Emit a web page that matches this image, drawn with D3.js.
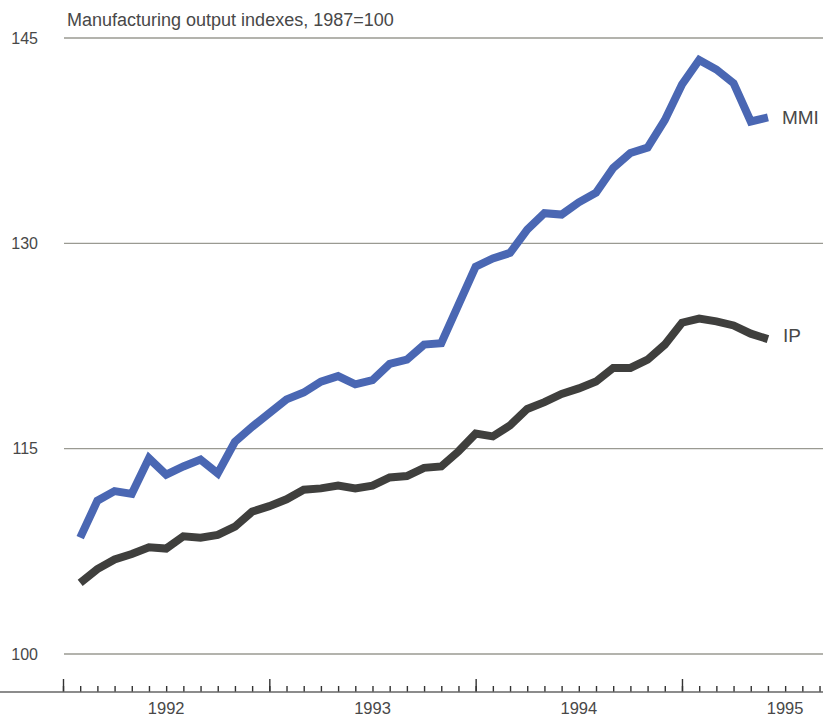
<!DOCTYPE html>
<html>
<head>
<meta charset="utf-8">
<script src="https://cdn.jsdelivr.net/npm/d3@7"></script>
<style>
  body { margin: 0; background: #fff; }
  text { font-family: "Liberation Sans", Arial, Helvetica, sans-serif; fill: #484848; }
</style>
</head>
<body>
<div id="chart"></div>
<script>
// Monthly values, Jan 1992 - May 1995 (plotted at month end)
var months = ["1992-01","1992-02","1992-03","1992-04","1992-05","1992-06","1992-07","1992-08","1992-09","1992-10","1992-11","1992-12",
              "1993-01","1993-02","1993-03","1993-04","1993-05","1993-06","1993-07","1993-08","1993-09","1993-10","1993-11","1993-12",
              "1994-01","1994-02","1994-03","1994-04","1994-05","1994-06","1994-07","1994-08","1994-09","1994-10","1994-11","1994-12",
              "1995-01","1995-02","1995-03","1995-04","1995-05"];

var mmi = [108.5,111.2,111.9,111.7,114.3,113.1,113.7,114.2,113.2,115.5,116.6,117.6,
           118.6,119.1,119.9,120.3,119.7,120.0,121.2,121.5,122.6,122.7,125.5,128.3,
           128.9,129.3,131.0,132.2,132.1,133.0,133.7,135.5,136.6,137.0,139.0,141.6,
           143.4,142.7,141.7,138.9,139.2];

var ip = [105.2,106.2,106.9,107.3,107.8,107.7,108.6,108.5,108.7,109.3,110.4,110.8,
          111.3,112.0,112.1,112.3,112.1,112.3,112.9,113.0,113.6,113.7,114.8,116.1,
          115.9,116.7,117.9,118.4,119.0,119.4,119.9,120.9,120.9,121.5,122.6,124.2,
          124.5,124.3,124.0,123.4,123.0];

var yTicks = [100, 115, 130, 145];
var years = ["1992", "1993", "1994", "1995"];

var width = 823, height = 718;

// month index since Jan 1992
function monthIndex(s) {
  var p = s.split("-");
  return (+p[0] - 1992) * 12 + (+p[1] - 1);
}

var x = d3.scaleLinear().domain([0, 48]).range([63, 888.3]);
var y = d3.scaleLinear().domain([100, 145]).range([654, 38]);

var svg = d3.select("#chart").append("svg")
    .attr("width", width)
    .attr("height", height);

//Title
svg.append("text")
    .attr("x", 67)
    .attr("y", 26)
    .style("font-size", "18px")
    .text("Manufacturing output indexes, 1987=100");

//Gridlines and y labels
svg.selectAll(".grid")
    .data(yTicks)
  .enter().append("line")
    .attr("class", "grid")
    .attr("x1", 64)
    .attr("x2", width)
    .attr("y1", function(d) { return y(d); })
    .attr("y2", function(d) { return y(d); })
    .attr("stroke", "#9a9a92")
    .attr("stroke-width", 1.3);

svg.selectAll(".ylab")
    .data(yTicks)
  .enter().append("text")
    .attr("class", "ylab")
    .attr("x", 38)
    .attr("y", function(d) { return y(d) + 5.5; })
    .attr("text-anchor", "end")
    .style("font-size", "16px")
    .text(function(d) { return d; });

//Bottom axis, ticks point up
var axisY = 692;
var xMax = x.invert(width);

var minorAxis = d3.axisTop(x)
    .tickValues(d3.range(0, Math.floor(xMax) + 1))
    .tickSize(6)
    .tickSizeOuter(0)
    .tickFormat("");

var majorAxis = d3.axisTop(x)
    .tickValues(d3.range(0, xMax, 12))
    .tickSize(13)
    .tickSizeOuter(0)
    .tickFormat("");

svg.append("g")
    .attr("transform", "translate(0," + axisY + ")")
    .call(minorAxis);
svg.append("g")
    .attr("transform", "translate(0," + axisY + ")")
    .call(majorAxis);
svg.selectAll(".domain").remove();
svg.selectAll(".tick line")
    .attr("stroke", "#333")
    .attr("stroke-width", 1.4);

svg.append("line")
    .attr("x1", 0)
    .attr("x2", width)
    .attr("y1", axisY)
    .attr("y2", axisY)
    .attr("stroke", "#666")
    .attr("stroke-width", 1.4);

svg.selectAll(".year")
    .data(years)
  .enter().append("text")
    .attr("class", "year")
    .attr("x", function(d, i) { return x(i * 12 + 6); })
    .attr("y", 714)
    .attr("text-anchor", "middle")
    .style("font-size", "16.5px")
    .text(function(d) { return d; });

//Lines
var line = d3.line()
    .x(function(d) { return x(monthIndex(d.m) + 1); })
    .y(function(d) { return y(d.v); });

var ipData = months.map(function(m, i) { return {m: m, v: ip[i]}; });
var mmiData = months.map(function(m, i) { return {m: m, v: mmi[i]}; });

svg.append("path")
    .datum(ipData)
    .attr("d", line)
    .attr("fill", "none")
    .attr("stroke", "#3f3f3d")
    .attr("stroke-width", 8)
    .attr("stroke-linejoin", "miter");

svg.append("path")
    .datum(mmiData)
    .attr("d", line)
    .attr("fill", "none")
    .attr("stroke", "#4a67b3")
    .attr("stroke-width", 8)
    .attr("stroke-linejoin", "miter");

//Series labels
var last = months.length - 1;
svg.append("text")
    .attr("x", x(monthIndex(months[last]) + 1) + 14)
    .attr("y", y(mmi[last]) + 7)
    .style("font-size", "19px")
    .text("MMI");
svg.append("text")
    .attr("x", x(monthIndex(months[last]) + 1) + 15)
    .attr("y", y(ip[last]) + 3)
    .style("font-size", "19px")
    .text("IP");
</script>
</body>
</html>
